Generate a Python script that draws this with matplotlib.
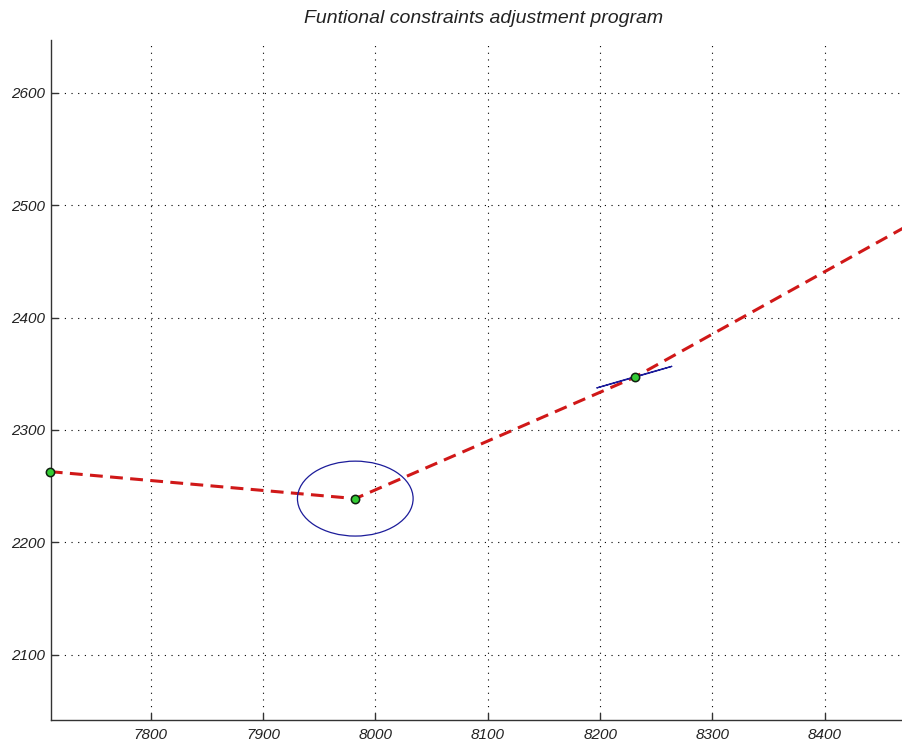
import matplotlib.pyplot as plt
from matplotlib.patches import Ellipse

# traverse points (easting, northing)
route_x = [7710, 7982, 8231, 8469, 8500]
route_y = [2263, 2239, 2347, 2479, 2496]

# adjusted stations shown with green markers
station_x = [7710, 7982, 8231]
station_y = [2263, 2239, 2347]

# error ellipses: centre x, centre y, width, height, angle
ell_x = [7982, 8230.5]
ell_y = [2239, 2347]
ell_w = [103, 70]
ell_h = [66.6, 0.4]
ell_ang = [0, 16]

x_ticks = [7800, 7900, 8000, 8100, 8200, 8300, 8400]
y_ticks = [2100, 2200, 2300, 2400, 2500, 2600]

plt.rcParams['font.family'] = ['Liberation Sans', 'DejaVu Sans']

fig = plt.figure(figsize=(9.02, 7.45), dpi=100)
ax = fig.add_axes([0.0562, 0.0336, 0.9438, 0.9127])

ax.plot(route_x, route_y, color='#d01818', lw=2.2, dashes=(4.2, 2.4), zorder=3)
for cx, cy, w, h, a in zip(ell_x, ell_y, ell_w, ell_h, ell_ang):
    ax.add_patch(Ellipse((cx, cy), w, h, angle=a, fill=False,
                         edgecolor='#1c1c9a', lw=0.9, zorder=4))
ax.plot(station_x, station_y, 'o', color='#33cc33', mec='#102010', mew=1.1,
        ms=6, zorder=5, clip_on=False)

ax.set_xlim(7710.8, 8468.8)
ax.set_ylim(2042.2, 2646.7)
ax.set_xticks(x_ticks)
ax.set_yticks(y_ticks)
ax.grid(True, color='black', lw=0.8, linestyle=(0, (1, 5)))

for side in ('top', 'right'):
    ax.spines[side].set_visible(False)
for side in ('left', 'bottom'):
    ax.spines[side].set_color('#333333')
    ax.spines[side].set_linewidth(1.0)

ax.tick_params(direction='in', length=5, width=1.0, colors='#333333',
               labelsize=11, labelcolor='#222222')
ax.tick_params(axis='x', pad=6)
ax.tick_params(axis='y', pad=4)
for lbl in ax.get_xticklabels() + ax.get_yticklabels():
    lbl.set_fontstyle('italic')

fig.text(0.5366, 0.9745, 'Funtional constraints adjustment program',
         ha='center', va='center', fontsize=14, style='italic', color='#222222')

fig.savefig('out.png', dpi=100)
